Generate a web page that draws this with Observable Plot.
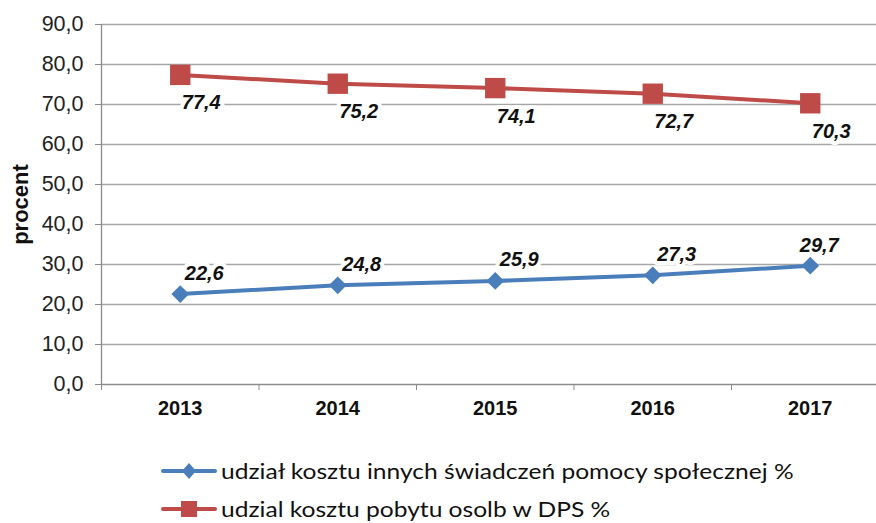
<!DOCTYPE html>
<html>
<head>
<meta charset="utf-8">
<script src="https://cdn.jsdelivr.net/npm/d3@7"></script>
<script src="https://cdn.jsdelivr.net/npm/@observablehq/plot@0.6"></script>
<style>
  body { margin: 0; background: #fff; }
  #wrap { position: relative; width: 876px; height: 523px; overflow: hidden; }
  .leg { position: absolute; left: 161px; display: flex; align-items: center; font-family: Lato, "Open Sans", sans-serif; font-size: 21px; line-height: 24px; color: #111; white-space: nowrap; }
  .leg svg { margin-right: 4px; flex: none; }
  .leg span { display: inline-block; transform: scaleX(1.17); transform-origin: left center; }
</style>
</head>
<body>
<div id="wrap"></div>
<script>
const years = [2013, 2014, 2015, 2016, 2017];
const seriesNames = [
  "udział kosztu innych świadczeń pomocy społecznej %",
  "udzial kosztu pobytu osolb w DPS %"
];
const otherShare = [22.6, 24.8, 25.9, 27.3, 29.7];
const dpsShare = [77.4, 75.2, 74.1, 72.7, 70.3];
const yTicks = [0, 10, 20, 30, 40, 50, 60, 70, 80, 90];

const blueColor = "#4a7ebb";
const redColor = "#be4b48";
const fmt = d => d.toFixed(1).replace(".", ",");

const blueData = years.map((y, i) => ({year: y, value: otherShare[i]}));
const redData = years.map((y, i) => ({year: y, value: dpsShare[i]}));
const boundaries = years.map(y => y - 0.5);
const lastYear = years[years.length - 1];

const labelStyle = {fontSize: 20, fontWeight: "bold", fontStyle: "italic", fill: "#111", stroke: "white", strokeWidth: 8};

const chart = Plot.plot({
  width: 876,
  height: 440,
  marginLeft: 101,
  marginRight: 0,
  marginTop: 24,
  marginBottom: 56,
  style: {fontFamily: "'Liberation Sans', Arial, sans-serif", background: "#fff", overflow: "visible"},
  x: {domain: [years[0] - 0.5, lastYear + 0.5], range: [101, 888.5]},
  y: {domain: [0, 90], range: [384, 24]},
  marks: [
    Plot.ruleY(yTicks.filter(d => d > 0), {stroke: "#a6a6a6", strokeWidth: 1.3}),
    Plot.ruleY([0], {stroke: "#8c8c8c", strokeWidth: 1.3}),
    Plot.ruleX([years[0] - 0.5], {stroke: "#8c8c8c", strokeWidth: 1.3}),
    Plot.axisY({ticks: yTicks, tickFormat: fmt, tickSize: 6, tickPadding: 12, fontSize: 21.5, stroke: "#8c8c8c", color: "#222", label: null}),
    Plot.axisX({ticks: boundaries, tickFormat: () => "", tickSize: 6, stroke: "#8c8c8c", label: null}),
    Plot.axisX({ticks: years, tickFormat: d => String(d), tickSize: 0, tickPadding: 16, fontSize: 20, fontWeight: "bold", color: "#111", label: null}),
    Plot.text(["procent"], {frameAnchor: "left", textAnchor: "middle", dx: -81, rotate: -90, fontSize: 22, fontWeight: "bold", fill: "#111"}),
    Plot.lineY(redData, {x: "year", y: "value", stroke: redColor, strokeWidth: 4}),
    Plot.dot(redData, {x: "year", y: "value", symbol: "square", r: 11.5, fill: redColor, stroke: "none"}),
    Plot.lineY(blueData, {x: "year", y: "value", stroke: blueColor, strokeWidth: 4}),
    Plot.dot(blueData, {x: "year", y: "value", symbol: "diamond2", r: 8, fill: blueColor, stroke: "none"}),
    Plot.text(blueData.filter(d => d.year !== lastYear), {x: "year", y: "value", text: d => fmt(d.value), dx: 24, dy: -21, ...labelStyle}),
    Plot.text(blueData.filter(d => d.year === lastYear), {x: "year", y: "value", text: d => fmt(d.value), dx: 9, dy: -20, ...labelStyle}),
    Plot.text(redData, {x: "year", y: "value", text: d => fmt(d.value), dx: 21, dy: 28, ...labelStyle})
  ]
});

const wrap = document.getElementById("wrap");
wrap.appendChild(chart);

function legendRow(name, color, shape, top) {
  const div = document.createElement("div");
  div.className = "leg";
  div.style.top = top + "px";
  const sw = d3.create("svg").attr("width", 56).attr("height", 20);
  sw.append("line").attr("x1", 2).attr("x2", 54).attr("y1", 10).attr("y2", 10).attr("stroke", color).attr("stroke-width", 4).attr("stroke-linecap", "round");
  if (shape === "diamond") {
    sw.append("path").attr("d", "M28,2 L35,10 L28,18 L21,10 Z").attr("fill", color);
  } else {
    sw.append("rect").attr("x", 20).attr("y", 2).attr("width", 16).attr("height", 16).attr("fill", color);
  }
  div.appendChild(sw.node());
  const span = document.createElement("span");
  span.textContent = name;
  div.appendChild(span);
  wrap.appendChild(div);
}
legendRow(seriesNames[0], blueColor, "diamond", 459);
legendRow(seriesNames[1], redColor, "square", 497);
</script>
</body>
</html>
